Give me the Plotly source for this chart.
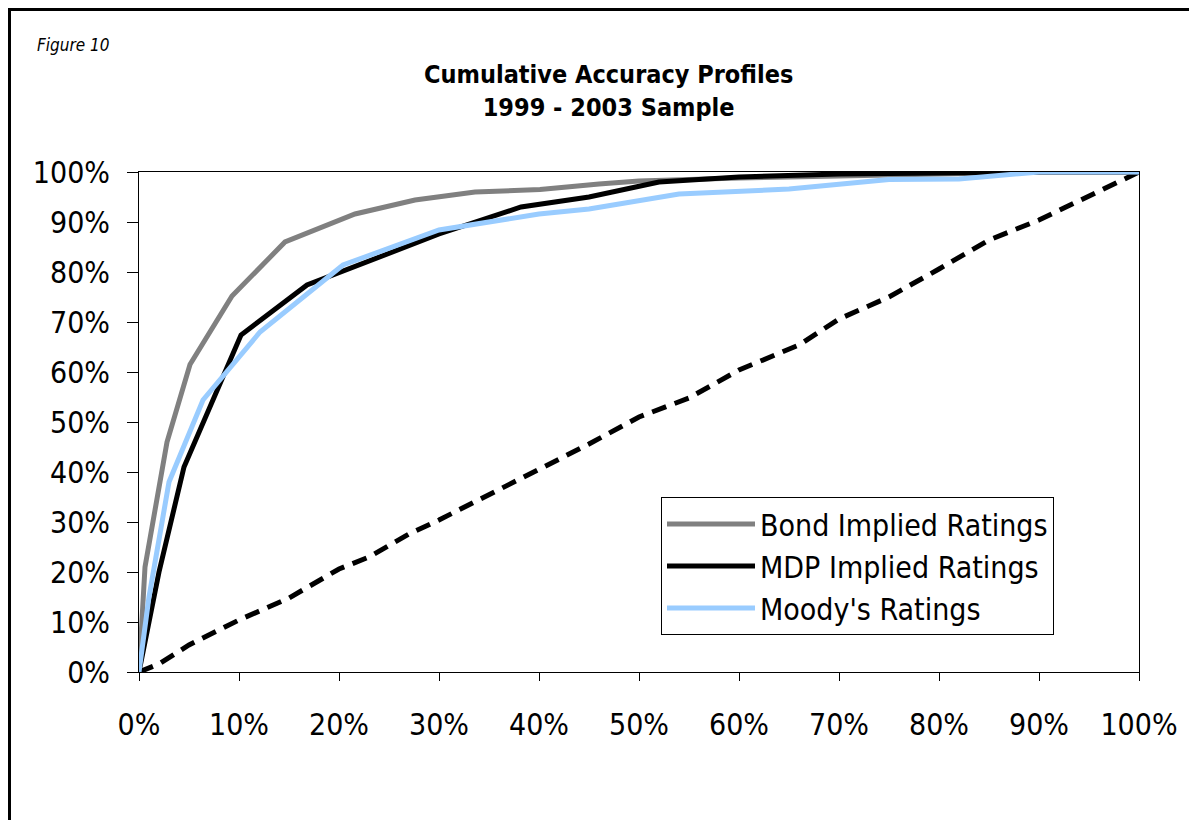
import plotly.graph_objects as go

# data (percent)
bond_x = [0, 0.6, 2.8, 5.1, 9.3, 14.6, 21.6, 27.6, 33.6, 40.1, 46.0, 50.0, 60.0, 70.0, 80.0, 90.0, 100.0]
bond_y = [0, 21.0, 46.0, 61.5, 75.2, 86.0, 91.6, 94.4, 96.0, 96.5, 97.6, 98.2, 98.8, 99.2, 99.7, 100.0, 100.0]

mdp_x = [0, 2.0, 4.5, 10.2, 16.8, 21.0, 30.0, 38.2, 45.0, 52.0, 60.0, 70.0, 80.0, 90.0, 100.0]
mdp_y = [0, 20.0, 41.0, 67.4, 77.4, 80.6, 87.6, 93.0, 95.0, 98.0, 99.0, 99.6, 99.9, 100.0, 100.0]

moody_x = [0, 1.0, 3.0, 6.4, 12.1, 20.4, 30.0, 33.6, 40.0, 45.0, 54.0, 65.0, 75.0, 82.0, 90.0, 100.0]
moody_y = [0, 15.0, 38.0, 54.4, 68.0, 81.4, 88.4, 89.6, 91.6, 92.6, 95.6, 96.6, 98.5, 98.6, 100.0, 100.0]

rand_x = [0, 2.0, 5.0, 10.0, 15.0, 20.0, 23.0, 27.0, 30.0, 34.0, 40.0, 45.0, 50.0, 55.0, 60.0, 66.0, 70.0, 75.0, 80.0, 85.0, 90.0, 93.0, 100.0]
rand_y = [0, 1.6, 5.4, 10.4, 14.8, 20.6, 23.0, 27.6, 30.4, 34.4, 40.6, 45.6, 51.0, 54.8, 60.4, 65.4, 70.6, 75.0, 80.6, 86.4, 90.4, 93.2, 100.0]

tick_vals = [0, 10, 20, 30, 40, 50, 60, 70, 80, 90, 100]
tick_text = [f"{v}%" for v in tick_vals]

FONT = "DejaVu Sans Condensed, Liberation Sans Narrow, Arial Narrow, sans-serif"

# page has an 8px body margin, so plot box 139..1139 x 172..672 in the window
L, T, R, B = 131, 164, 1131, 664
PW, PH = R - L, B - T


def px(x):
    return (x - 8 - L) / PW


def py(y):
    return (B - (y - 8)) / PH


fig = go.Figure()
fig.add_trace(go.Scatter(x=rand_x, y=rand_y, mode="lines", showlegend=False,
                         line=dict(color="black", width=5, dash="15px,9px")))
fig.add_trace(go.Scatter(x=bond_x, y=bond_y, mode="lines", name="Bond Implied Ratings",
                         line=dict(color="#808080", width=5)))
fig.add_trace(go.Scatter(x=mdp_x, y=mdp_y, mode="lines", name="MDP Implied Ratings",
                         line=dict(color="black", width=5)))
fig.add_trace(go.Scatter(x=moody_x, y=moody_y, mode="lines", name="Moody's Ratings",
                         line=dict(color="#99CCFF", width=5)))

fig.update_layout(
    width=1197, height=820,
    margin=dict(l=L, r=1197 - R, t=T, b=820 - B),
    paper_bgcolor="white", plot_bgcolor="white",
    font=dict(family=FONT, color="black", size=30),
    legend=dict(x=px(661), y=py(497), xanchor="left", yanchor="top",
                bordercolor="black", borderwidth=1, bgcolor="white",
                font=dict(size=30), tracegroupgap=0, itemwidth=88),
    annotations=[
        dict(text="<i>Figure 10</i>", x=px(35), y=py(45), xref="paper", yref="paper",
             xanchor="left", yanchor="middle", showarrow=False, font=dict(size=17)),
        dict(text="<b>Cumulative Accuracy Profiles<br>1999 - 2003 Sample</b>",
             x=px(608), y=py(91), xref="paper", yref="paper",
             xanchor="center", yanchor="middle", showarrow=False, font=dict(size=25)),
    ],
)

fig.update_xaxes(range=[0, 100], tickvals=tick_vals, ticktext=tick_text, showgrid=False,
                 zeroline=False, showline=True, linecolor="black", linewidth=1, mirror=True,
                 ticks="outside", ticklen=8, tickcolor="black", ticklabelstandoff=18)
fig.update_yaxes(range=[0, 100], tickvals=tick_vals, ticktext=tick_text, showgrid=False,
                 zeroline=False, showline=True, linecolor="black", linewidth=1, mirror=True,
                 ticks="outside", ticklen=11, tickcolor="black", ticklabelstandoff=11)

# outer frame: only the top and left edges fall inside the window
fig.add_shape(type="line", xref="paper", yref="paper",
              x0=px(8), x1=px(1210), y0=py(9.5), y1=py(9.5),
              line=dict(color="black", width=3))
fig.add_shape(type="line", xref="paper", yref="paper",
              x0=px(9.5), x1=px(9.5), y0=py(8), y1=py(840),
              line=dict(color="black", width=3))

fig.write_html("out.html")
